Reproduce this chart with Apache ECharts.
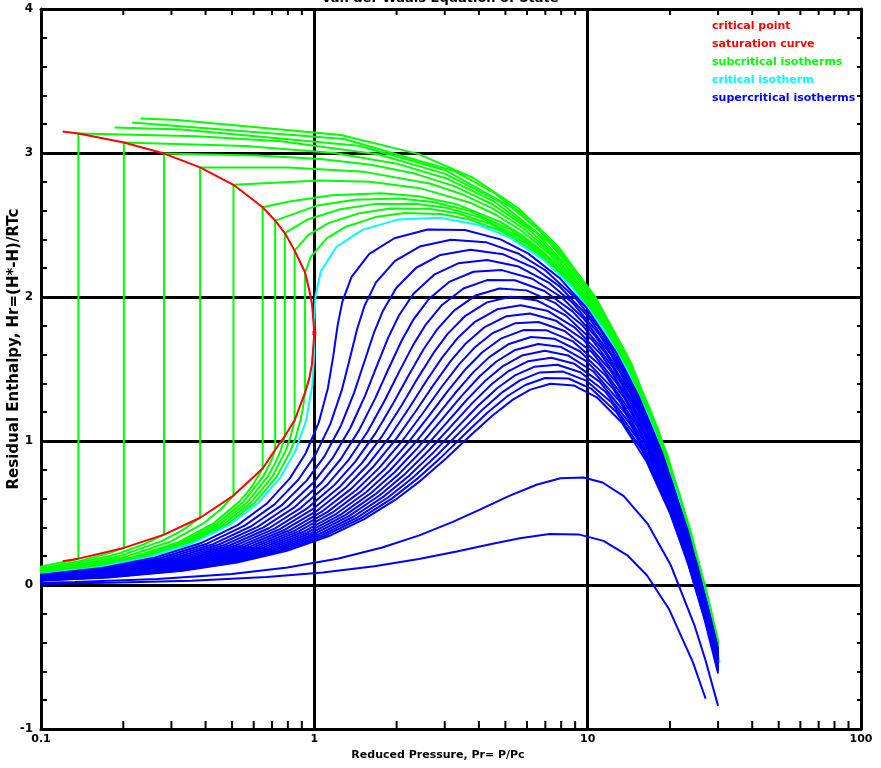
<!DOCTYPE html>
<html>
<head>
<meta charset="utf-8">
<title>Van der Waals Equation of State</title>
<script src="https://cdn.jsdelivr.net/npm/echarts@6/dist/echarts.min.js"></script>
<style>
  html, body { margin: 0; padding: 0; background: #fff; }
  #chart { width: 881px; height: 768px; }
</style>
</head>
<body>
<div id="chart"></div>
<script>
// reduced temperatures of the plotted isotherms
const subcriticalTr = [0.5, 0.55, 0.6, 0.65, 0.7, 0.75, 0.8, 0.85, 0.9, 0.92, 0.94, 0.96, 0.98];
const supercriticalTr = [1.05, 1.1, 1.15, 1.2, 1.25, 1.3, 1.35, 1.4, 1.45, 1.5, 1.55, 1.6, 1.65, 1.7, 1.75, 1.8, 1.85, 1.9, 1.95, 2, 3, 4];

// [Pr, Hr] points, one list per subcritical isotherm
const subcriticalIsotherms = [
  [[0.231,3.239],[0.315,3.23],[1.25,3.125],[2.394,2.994],[3.806,2.828],[5.567,2.618],[7.796,2.35],[10.667,2.0],[14.45,1.536],[19.587,0.901],[26.852,0.0],[30,-0.392]],
  [[0.215,3.211],[1.284,3.097],[3.25,2.875],[4.556,2.723],[6.159,2.534],[8.148,2.296],[10.653,1.993],[13.867,1.6],[18.086,1.081],[23.798,0.375],[30,-0.395]],
  [[0.186,3.177],[0.327,3.164],[1.455,3.05],[3.023,2.879],[5.25,2.625],[6.718,2.453],[8.511,2.24],[10.728,1.973],[13.51,1.635],[17.067,1.2],[21.723,0.627],[28.008,-0.151],[30,-0.399]],
  [[0.0551,0.0677],[0.0989,0.1268],[0.1277,0.1689],[0.137,0.183],[0.137,3.135],[0.373,3.116],[0.754,3.082],[1.706,2.991],[2.993,2.857],[4.762,2.662],[7.25,2.375],[8.88,2.183],[10.864,1.946],[13.309,1.651],[16.367,1.278],[20.267,0.8],[25.359,0.172],[30,-0.403]],
  [[0.0596,0.0671],[0.1074,0.1257],[0.1392,0.1675],[0.1783,0.2231],[0.201,0.2575],[0.201,3.073],[0.559,3.049],[1.185,3.0],[2.004,2.926],[3.085,2.819],[4.532,2.665],[6.501,2.444],[9.25,2.125],[11.043,1.912],[13.217,1.652],[15.89,1.328],[19.224,0.921],[23.467,0.4],[28.995,-0.283],[30,-0.407]],
  [[0.0641,0.0666],[0.1159,0.1247],[0.1769,0.1991],[0.1937,0.2212],[0.2388,0.2839],[0.282,0.35],[0.282,2.996],[0.616,2.983],[1.053,2.958],[1.612,2.918],[2.328,2.857],[3.254,2.77],[4.465,2.646],[6.07,2.473],[8.24,2.227],[11.25,1.875],[13.205,1.642],[15.57,1.358],[18.47,1.005],[22.082,0.564],[26.667,0.0],[30,-0.412]],
  [[0.0686,0.066],[0.1245,0.1236],[0.1907,0.1974],[0.2749,0.3029],[0.3274,0.3779],[0.382,0.467],[0.382,2.9],[0.8,2.9],[1.525,2.869],[2.664,2.786],[3.471,2.714],[4.504,2.614],[5.844,2.474],[7.609,2.28],[9.98,2.01],[13.25,1.625],[15.367,1.372],[17.923,1.063],[21.051,0.683],[24.939,0.207],[30,-0.416]],
  [[0.0731,0.0654],[0.133,0.1226],[0.2045,0.1957],[0.2966,0.3002],[0.3959,0.432],[0.4541,0.524],[0.506,0.621],[0.506,2.779],[1.048,2.809],[1.6,2.8],[2.434,2.756],[3.717,2.655],[4.614,2.571],[5.754,2.457],[7.223,2.302],[9.147,2.088],[11.719,1.792],[15.25,1.375],[17.529,1.102],[20.276,0.769],[23.632,0.36],[27.796,-0.15],[30,-0.422]],
  [[0.0776,0.0649],[0.1415,0.1215],[0.2183,0.194],[0.3182,0.2975],[0.4279,0.428],[0.5335,0.5807],[0.5903,0.682],[0.647,0.809],[0.647,2.623],[0.812,2.663],[1.16,2.706],[1.763,2.72],[2.4,2.7],[3.343,2.642],[4.77,2.523],[5.757,2.429],[7.004,2.301],[8.603,2.129],[10.686,1.896],[13.458,1.575],[17.25,1.125],[19.691,0.831],[22.629,0.475],[26.212,0.038],[30,-0.427]],
  [[0.0794,0.0647],[0.1449,0.1211],[0.2238,0.1933],[0.3268,0.2964],[0.4407,0.4264],[0.5515,0.5784],[0.6523,0.7585],[0.6944,0.8584],[0.719,0.939],[0.719,2.53],[1.028,2.636],[1.406,2.676],[2.048,2.684],[2.72,2.66],[3.706,2.597],[5.191,2.47],[6.214,2.371],[7.504,2.239],[9.154,2.06],[11.301,1.819],[14.154,1.488],[18.05,1.025],[20.556,0.723],[23.57,0.358],[27.244,-0.091],[30,-0.43]],
  [[0.0812,0.0644],[0.1483,0.1206],[0.2293,0.1926],[0.3355,0.2953],[0.4535,0.4248],[0.5695,0.5762],[0.6769,0.7554],[0.723,0.8549],[0.754,0.937],[0.78,1.035],[0.78,2.444],[0.94,2.536],[1.244,2.609],[1.652,2.645],[2.334,2.648],[3.04,2.62],[4.07,2.551],[5.612,2.418],[6.671,2.314],[8.004,2.176],[9.706,1.991],[11.916,1.742],[14.849,1.401],[18.85,0.925],[21.421,0.615],[24.511,0.24],[28.277,-0.22],[30,-0.432]],
  [[0.083,0.0642],[0.1517,0.1202],[0.2348,0.1919],[0.3441,0.2943],[0.4663,0.4232],[0.5874,0.574],[0.7015,0.7523],[0.786,0.933],[0.8195,1.0318],[0.847,1.144],[0.847,2.322],[0.95,2.43],[1.126,2.513],[1.46,2.582],[1.898,2.614],[2.62,2.613],[3.36,2.58],[4.434,2.506],[6.033,2.365],[7.128,2.257],[8.504,2.114],[10.258,1.922],[12.532,1.665],[15.545,1.314],[19.65,0.825],[22.286,0.507],[25.453,0.122],[29.309,-0.349],[30,-0.434]],
  [[0.0848,0.064],[0.1551,0.1198],[0.2403,0.1912],[0.3528,0.2932],[0.4791,0.4216],[0.6054,0.5717],[0.7262,0.7492],[0.818,0.929],[0.8559,1.0273],[0.8913,1.1484],[0.9067,1.22],[0.925,1.336],[0.925,2.17],[0.972,2.28],[1.113,2.409],[1.312,2.49],[1.677,2.555],[2.144,2.583],[2.905,2.577],[3.68,2.54],[4.797,2.46],[6.454,2.312],[7.585,2.2],[9.004,2.051],[10.81,1.853],[13.147,1.588],[16.24,1.227],[20.45,0.725],[23.151,0.399],[26.394,0.005],[30,-0.44]]
];

// critical isotherm, Tr = 1
const criticalIsotherm = [[0.0439,0.0319],[0.0866,0.0638],[0.1585,0.1194],[0.2459,0.1905],[0.3614,0.2921],[0.4919,0.42],[0.6234,0.5695],[0.7508,0.7462],[0.85,0.925],[0.9334,1.1431],[0.9835,1.3859],[0.9989,1.6107],[1.0002,1.8279],[1.009,2.0019],[1.0561,2.1793],[1.2044,2.3473],[1.498,2.4662],[2.034,2.5389],[2.8794,2.5504],[4,2.5],[5.161,2.4148],[6.875,2.2597],[8.731,2.0711],[11.361,1.7843],[13.762,1.511],[16.936,1.14],[21.25,0.625],[27.335,-0.113],[29.66,-0.44],[30.4,-0.54]];

const supercriticalIsotherms = [
  [[0.0461,0.0316],[0.0911,0.0632],[0.167,0.1183],[0.2597,0.1888],[0.383,0.2894],[0.5239,0.416],[0.6683,0.5638],[0.8123,0.7385],[0.93,0.915],[1.0387,1.1299],[1.1214,1.3687],[1.1728,1.5889],[1.2164,1.8009],[1.2671,1.9696],[1.3686,2.1402],[1.589,2.2992],[1.9631,2.4081],[2.5974,2.4685],[3.5573,2.4656],[4.8,2.4],[6.0701,2.3011],[7.9276,2.1281],[9.925,1.9219],[12.7405,1.6119],[15.3009,1.3187],[18.6752,0.9226],[23.25,0.375],[29.6879,-0.4072],[30,-0.445]],
  [[0.0483,0.0314],[0.0956,0.0626],[0.1755,0.1172],[0.2734,0.1871],[0.4047,0.2867],[0.5559,0.412],[0.7133,0.5582],[0.8738,0.7308],[1.01,0.905],[1.1439,1.1168],[1.2593,1.3515],[1.3467,1.5672],[1.4327,1.7738],[1.5252,1.9374],[1.6811,2.1012],[1.9737,2.2511],[2.4282,2.35],[3.1608,2.3981],[4.2353,2.3809],[5.6,2.3],[6.9792,2.1875],[8.9802,1.9966],[11.119,1.7726],[14.1198,1.4395],[16.8394,1.1264],[20.4143,0.7052],[25.25,0.125],[28.34,-0.25],[30,-0.452]],
  [[0.0506,0.0311],[0.1,0.0621],[0.184,0.1162],[0.2872,0.1853],[0.4263,0.284],[0.5879,0.408],[0.7582,0.5526],[0.9354,0.7231],[1.09,0.895],[1.2492,1.1036],[1.3973,1.3342],[1.5207,1.5455],[1.6489,1.7468],[1.7832,1.9051],[1.9936,2.0621],[2.3583,2.2031],[2.8933,2.2918],[3.7241,2.3277],[4.9133,2.2961],[6.4,2.2],[7.8883,2.0739],[10.0328,1.865],[12.3131,1.6233],[15.4992,1.267],[18.3778,0.9341],[22.1535,0.4878],[27.25,-0.125],[30,-0.459]],
  [[0.0528,0.0308],[0.1045,0.0615],[0.1925,0.1151],[0.301,0.1836],[0.4479,0.2813],[0.6199,0.404],[0.8032,0.547],[0.9969,0.7154],[1.17,0.885],[1.3544,1.0905],[1.5352,1.317],[1.6946,1.5237],[1.8651,1.7198],[2.0413,1.8729],[2.3061,2.023],[2.7429,2.155],[3.3584,2.2337],[4.2875,2.2572],[5.5912,2.2114],[7.2,2.1],[8.7974,1.9602],[11.0855,1.7334],[13.5071,1.4741],[16.8785,1.0946],[19.9163,0.7418],[23.8926,0.2704],[29.25,-0.375],[30,-0.466]],
  [[0.055,0.0305],[0.109,0.061],[0.2011,0.114],[0.3148,0.1819],[0.4695,0.2786],[0.6519,0.4],[0.8481,0.5414],[1.0585,0.7077],[1.25,0.875],[1.4597,1.0773],[1.6731,1.2997],[1.8685,1.502],[2.0813,1.6928],[2.2994,1.8406],[2.6186,1.984],[3.1275,2.1069],[3.8235,2.1755],[4.8509,2.1868],[6.2692,2.1266],[8,2.0],[9.7064,1.8466],[12.1381,1.6018],[14.7011,1.3248],[18.2578,0.9222],[21.4547,0.5495],[25.6317,0.053],[30,-0.474]],
  [[0.0573,0.0302],[0.1135,0.0604],[0.2096,0.113],[0.3286,0.1802],[0.4912,0.2759],[0.6839,0.396],[0.8931,0.5358],[1.12,0.7],[1.33,0.865],[1.565,1.0641],[1.8111,1.2825],[2.0424,1.4802],[2.2975,1.6657],[2.5574,1.8084],[2.9311,1.9449],[3.5121,2.0588],[4.2887,2.1174],[5.4143,2.1164],[6.9472,2.0419],[8.8,1.9],[10.6155,1.733],[13.1907,1.4703],[15.8952,1.1756],[19.6371,0.7498],[22.9932,0.3571],[27.3709,-0.1644],[30,-0.48]],
  [[0.0595,0.03],[0.118,0.0598],[0.2181,0.1119],[0.3424,0.1784],[0.5128,0.2732],[0.7159,0.392],[0.938,0.5301],[1.1815,0.6923],[1.41,0.855],[1.6702,1.051],[1.949,1.2653],[2.2163,1.4585],[2.5137,1.6387],[2.8155,1.7761],[3.2436,1.9058],[3.8967,2.0108],[4.7538,2.0593],[5.9777,2.046],[7.6251,1.9571],[9.6,1.8],[11.5246,1.6193],[14.2434,1.3387],[17.0892,1.0263],[21.0164,0.5774],[24.5317,0.1648],[29.11,-0.3818],[30,-0.489]],
  [[0.0617,0.0297],[0.1225,0.0593],[0.2266,0.1108],[0.3562,0.1767],[0.5344,0.2705],[0.7479,0.388],[0.983,0.5245],[1.2431,0.6846],[1.49,0.845],[1.7755,1.0378],[2.0869,1.248],[2.3902,1.4368],[2.73,1.6117],[3.0736,1.7438],[3.5561,1.8668],[4.2813,1.9627],[5.2189,2.0011],[6.541,1.9755],[8.3031,1.8724],[10.4,1.7],[12.4337,1.5057],[15.296,1.2071],[18.2832,0.8771],[22.3957,0.405],[26.0701,-0.0275],[30,-0.498]],
  [[0.064,0.0294],[0.127,0.0587],[0.2351,0.1098],[0.37,0.175],[0.556,0.2678],[0.7799,0.384],[1.0279,0.5189],[1.3046,0.6769],[1.57,0.835],[1.8808,1.0247],[2.2249,1.2308],[2.5641,1.415],[2.9462,1.5846],[3.3316,1.7116],[3.8686,1.8277],[4.666,1.9146],[5.684,1.943],[7.1044,1.9051],[8.9811,1.7877],[11.2,1.6],[13.3428,1.392],[16.3486,1.0755],[19.4773,0.7278],[23.775,0.2326],[27.6086,-0.2198],[29.93,-0.497]],
  [[0.0662,0.0291],[0.1315,0.0581],[0.2436,0.1087],[0.3838,0.1733],[0.5776,0.2651],[0.8119,0.38],[1.0728,0.5133],[1.3662,0.6692],[1.65,0.825],[1.986,1.0115],[2.3628,1.2135],[2.7381,1.3933],[3.1624,1.5576],[3.5897,1.6793],[4.1811,1.7887],[5.0506,1.8665],[6.1491,1.8848],[7.6678,1.8347],[9.659,1.7029],[12,1.5],[14.2519,1.2784],[17.4013,0.9439],[20.6713,0.5786],[25.1543,0.0601],[27.0274,-0.1604],[29.147,-0.4121],[30,-0.514]],
  [[0.0684,0.0288],[0.136,0.0576],[0.2521,0.1077],[0.3976,0.1716],[0.5993,0.2624],[0.8439,0.376],[1.1178,0.5077],[1.4277,0.6615],[1.73,0.815],[2.0913,0.9984],[2.5007,1.1963],[2.912,1.3715],[3.3786,1.5306],[3.8478,1.6471],[4.4936,1.7496],[5.4352,1.8184],[6.6142,1.8267],[8.2312,1.7643],[10.337,1.6182],[12.8,1.4],[15.161,1.1648],[18.4539,0.8124],[21.8653,0.4293],[26.5336,-0.1123],[28.4819,-0.3422],[30,-0.523]],
  [[0.0707,0.0286],[0.1405,0.057],[0.2606,0.1066],[0.4114,0.1698],[0.6209,0.2597],[0.8759,0.372],[1.1627,0.502],[1.4892,0.6538],[1.81,0.805],[2.1965,0.9852],[2.6386,1.179],[3.0859,1.3498],[3.5948,1.5036],[4.1058,1.6148],[4.8061,1.7105],[5.8198,1.7704],[7.0794,1.7686],[8.7946,1.6939],[11.015,1.5334],[13.6,1.3],[16.0701,1.0511],[19.5065,0.6808],[23.0594,0.2801],[26.1131,-0.0735],[27.9129,-0.2847],[29.94,-0.524]],
  [[0.0729,0.0283],[0.145,0.0565],[0.2691,0.1055],[0.4252,0.1681],[0.6425,0.257],[0.9079,0.368],[1.2077,0.4964],[1.5508,0.6462],[1.89,0.795],[2.3018,0.972],[2.7766,1.1618],[3.2598,1.3281],[3.811,1.4765],[4.3639,1.5825],[5.1186,1.6715],[6.2044,1.7223],[7.5445,1.7104],[9.3579,1.6234],[11.6929,1.4487],[14.4,1.2],[16.9792,0.9375],[20.5592,0.5492],[24.2534,0.1308],[27.4246,-0.2374],[29.2922,-0.4571],[30,-0.541]],
  [[0.0752,0.028],[0.1495,0.0559],[0.2777,0.1045],[0.439,0.1664],[0.6641,0.2543],[0.9399,0.364],[1.2526,0.4908],[1.6123,0.6385],[1.97,0.785],[2.4071,0.9589],[2.9145,1.1446],[3.4337,1.3063],[4.0273,1.4495],[4.6219,1.5503],[5.4311,1.6324],[6.589,1.6742],[8.0096,1.6523],[9.9213,1.553],[12.3709,1.3639],[15.2,1.1],[17.8883,0.8239],[21.6118,0.4176],[25.4474,-0.0184],[28.736,-0.4013],[30,-0.55]],
  [[0.0774,0.0277],[0.154,0.0553],[0.2862,0.1034],[0.4528,0.1647],[0.6857,0.2516],[0.9719,0.36],[1.2976,0.4852],[1.6738,0.6308],[2.05,0.775],[2.5123,0.9457],[3.0524,1.1273],[3.6076,1.2846],[4.2435,1.4225],[4.88,1.518],[5.7436,1.5933],[6.9737,1.6261],[8.4747,1.5941],[10.4847,1.4826],[13.0489,1.2792],[16,1.0],[18.7974,0.7102],[22.6644,0.286],[26.6414,-0.1677],[28.2541,-0.3551],[30,-0.563]],
  [[0.0796,0.0274],[0.1585,0.0548],[0.2947,0.1023],[0.4666,0.1629],[0.7074,0.2489],[1.0039,0.356],[1.3425,0.4796],[1.7354,0.6231],[2.13,0.765],[2.6176,0.9326],[3.1904,1.1101],[3.7815,1.2628],[4.4597,1.3954],[5.1381,1.4858],[6.0561,1.5543],[7.3583,1.5781],[8.9398,1.536],[11.0481,1.4122],[13.7268,1.1944],[16.8,0.9],[19.7064,0.5966],[23.717,0.1545],[26.328,-0.1429],[27.8355,-0.317],[29.5041,-0.5114],[30,-0.569]],
  [[0.0819,0.0272],[0.163,0.0542],[0.3032,0.1013],[0.4803,0.1612],[0.729,0.2462],[1.0359,0.352],[1.3874,0.474],[1.7969,0.6154],[2.21,0.755],[2.7229,0.9194],[3.3283,1.0928],[3.9554,1.2411],[4.6759,1.3684],[5.3961,1.4535],[6.3686,1.5152],[7.7429,1.53],[9.4049,1.4779],[11.6115,1.3417],[14.4048,1.1097],[17.6,0.8],[20.6155,0.483],[24.7697,0.0229],[27.4709,-0.2857],[29.0295,-0.4662],[30,-0.58]],
  [[0.0841,0.0269],[0.1675,0.0537],[0.3117,0.1002],[0.4941,0.1595],[0.7506,0.2435],[1.0679,0.348],[1.4324,0.4683],[1.8585,0.6077],[2.29,0.745],[2.8281,0.9063],[3.4662,1.0756],[4.1294,1.2194],[4.8921,1.3414],[5.6542,1.4213],[6.6811,1.4762],[8.1275,1.4819],[9.87,1.4197],[12.1748,1.2713],[15.0828,1.0249],[18.4,0.7],[21.5246,0.3693],[25.8223,-0.1087],[28.6138,-0.4286],[30,-0.59]],
  [[0.0863,0.0266],[0.172,0.0531],[0.3202,0.0991],[0.5079,0.1578],[0.7722,0.2408],[1.0999,0.344],[1.4773,0.4627],[1.92,0.6],[2.37,0.735],[2.9334,0.8931],[3.6042,1.0584],[4.3033,1.1976],[5.1083,1.3144],[5.9123,1.389],[6.9936,1.4371],[8.5121,1.4338],[10.3352,1.3616],[12.7382,1.2009],[15.7607,0.9402],[19.2,0.6],[22.4337,0.2557],[26.8749,-0.2403],[28.2487,-0.3974],[29.7566,-0.5714],[30,-0.6]],
  [[0.0886,0.0263],[0.1764,0.0525],[0.3287,0.0981],[0.5217,0.156],[0.7939,0.2381],[1.1319,0.34],[1.5223,0.4571],[1.9815,0.5923],[2.45,0.725],[3.0387,0.8799],[3.7421,1.0411],[4.4772,1.1759],[5.3246,1.2873],[6.1703,1.3567],[7.3061,1.398],[8.8967,1.3857],[10.8003,1.3034],[13.3016,1.1305],[16.4387,0.8554],[20,0.5],[23.3428,0.142],[26.6319,-0.2246],[29.3446,-0.5407],[30,-0.614]],
  [[0.0666,0.0104],[0.1333,0.0207],[0.2663,0.0413],[0.4989,0.0768],[0.7976,0.1216],[1.2263,0.184],[1.7719,0.26],[2.4212,0.3447],[3.2123,0.4385],[4.05,0.525],[5.1439,0.6168],[6.5007,0.6963],[7.9554,0.7411],[9.6489,0.7468],[11.3316,0.7116],[13.5561,0.6168],[16.589,0.4242],[20.1026,0.1407],[24.5692,-0.278],[27.0057,-0.5245],[29.998,-0.8395]],
  [[0.0889,0.0076],[0.1779,0.0151],[0.3562,0.0301],[0.6691,0.0555],[1.0734,0.0871],[1.6587,0.1299],[2.4119,0.18],[3.32,0.2324],[4.4431,0.2846],[5.65,0.325],[7.2492,0.3536],[9.2593,0.3515],[11.4337,0.3063],[13.9732,0.2063],[16.4929,0.0664],[19.8061,-0.1645],[24.2813,-0.5373],[27.0137,-0.7897]]
];

// saturation dome: liquid side up to the critical point, then back down the vapour side
const saturationLiquid = [[0.12,3.15],[0.137,3.135],[0.201,3.073],[0.282,2.996],[0.382,2.9],[0.506,2.779],[0.647,2.623],[0.719,2.53],[0.78,2.444],[0.847,2.322],[0.925,2.17],[0.96,2.04],[0.98,1.957],[1,1.75]];
const saturationVapor = [[1,1.75],[0.98,1.533],[0.96,1.44],[0.925,1.336],[0.847,1.144],[0.78,1.035],[0.719,0.939],[0.647,0.809],[0.506,0.621],[0.382,0.467],[0.282,0.35],[0.201,0.2575],[0.137,0.183],[0.12,0.165]];
const criticalPoint = [[1, 1.75]];

// log axis minor ticks
const xMinorTicks = [0.2,0.3,0.4,0.5,0.6,0.7,0.8,0.9,2,3,4,5,6,7,8,9,20,30,40,50,60,70,80,90];

const FONT = 'DejaVu Sans';
const GREEN = '#00ff00', BLUE = '#0000ff', CYAN = '#00ffff', RED = '#ff0000';

const chart = echarts.init(document.getElementById('chart'));

const series = [];
subcriticalIsotherms.forEach((pts, i) => {
    series.push({
        name: 'subcritical isotherms', type: 'line', data: pts, z: 2,
        showSymbol: false, silent: true, lineStyle: { color: GREEN, width: 2 }, itemStyle: { color: GREEN }
    });
});
series.push({
    name: 'critical isotherm', type: 'line', data: criticalIsotherm, z: 3,
    showSymbol: false, silent: true, lineStyle: { color: CYAN, width: 2 }, itemStyle: { color: CYAN }
});
supercriticalIsotherms.forEach((pts, i) => {
    series.push({
        name: 'supercritical isotherms', type: 'line', data: pts, z: 4,
        showSymbol: false, silent: true, lineStyle: { color: BLUE, width: 2 }, itemStyle: { color: BLUE }
    });
});
series.push({
    name: 'saturation curve', type: 'line', data: saturationLiquid.concat(saturationVapor.slice(1)), z: 5,
    showSymbol: false, silent: true, lineStyle: { color: RED, width: 2 }, itemStyle: { color: RED }
});
series.push({
    name: 'critical point', type: 'scatter', data: criticalPoint, z: 6,
    symbol: 'rect', symbolSize: 4, itemStyle: { color: RED }
});
// minor ticks of the log axis, bottom and top of the frame
series.push({
    type: 'custom', z: 7, silent: true,
    data: xMinorTicks.map(v => [v, -1]),
    encode: { x: 0, y: 1 },
    renderItem: (params, api) => {
        const b = api.coord([api.value(0), -1]);
        const t = api.coord([api.value(0), 4]);
        const st = { stroke: '#000', lineWidth: 2 };
        return {
            type: 'group',
            children: [
                { type: 'line', shape: { x1: b[0], y1: b[1], x2: b[0], y2: b[1] - 8 }, style: st },
                { type: 'line', shape: { x1: t[0], y1: t[1], x2: t[0], y2: t[1] + 6 }, style: st }
            ]
        };
    }
});

const frameLine = { show: true, onZero: false, lineStyle: { color: '#000', width: 3 } };

const option = {
    animation: false,
    backgroundColor: '#fff',
    textStyle: { fontFamily: FONT },
    grid: { left: 41, right: 20, top: 9, bottom: 39 },
    legend: {
        orient: 'vertical', left: 707, top: 21, padding: 0,
        itemWidth: 0, itemHeight: 0, itemGap: 7, icon: 'rect', selectedMode: false,
        textStyle: { fontSize: 11, fontWeight: 'bold', fontFamily: FONT },
        data: [
            { name: 'critical point', textStyle: { color: RED } },
            { name: 'saturation curve', textStyle: { color: RED } },
            { name: 'subcritical isotherms', textStyle: { color: GREEN } },
            { name: 'critical isotherm', textStyle: { color: CYAN } },
            { name: 'supercritical isotherms', textStyle: { color: BLUE } }
        ]
    },
    xAxis: [
        {
            type: 'log', logBase: 10, min: 0.1, max: 100, position: 'bottom',
            axisLine: frameLine, axisTick: { show: false },
            splitLine: { show: true, lineStyle: { color: '#000', width: 3 } },
            axisLabel: { color: '#000', fontSize: 11, fontWeight: 'bold', margin: 5, fontFamily: FONT }
        },
        {
            type: 'log', logBase: 10, min: 0.1, max: 100, position: 'top',
            axisLine: frameLine, axisTick: { show: false }, axisLabel: { show: false }, splitLine: { show: false }
        }
    ],
    yAxis: [
        {
            type: 'value', min: -1, max: 4, interval: 1,
            axisLine: frameLine,
            axisTick: { show: true, inside: true, length: 6, lineStyle: { color: '#000', width: 2 } },
            minorTick: { show: true, splitNumber: 5, length: 6, lineStyle: { color: '#000', width: 2 } },
            splitLine: { show: true, lineStyle: { color: '#000', width: 3 } },
            axisLabel: { color: '#000', fontSize: 12, fontWeight: 'bold', margin: 8, fontFamily: FONT }
        },
        {
            type: 'value', min: -1, max: 4, interval: 1, position: 'right',
            axisLine: frameLine,
            axisTick: { show: true, inside: true, length: 4, lineStyle: { color: '#000', width: 2 } },
            minorTick: { show: true, splitNumber: 5, length: 4, lineStyle: { color: '#000', width: 2 } },
            splitLine: { show: false }, axisLabel: { show: false }
        }
    ],
    graphic: [
        {
            type: 'text', x: 440, y: -1.5,
            style: { text: 'Van der Waals Equation of State', fontSize: 13, fontWeight: 'bold', fontFamily: FONT,
                     fill: '#000', textAlign: 'center', textVerticalAlign: 'middle' }
        },
        {
            type: 'text', x: 438, y: 755,
            style: { text: 'Reduced Pressure, Pr= P/Pc', fontSize: 11, fontWeight: 'bold', fontFamily: FONT,
                     fill: '#000', textAlign: 'center', textVerticalAlign: 'middle' }
        },
        {
            type: 'text', x: 14, y: 349, rotation: Math.PI / 2,
            style: { text: 'Residual Enthalpy, Hr=(H*-H)/RTc', fontSize: 15, fontWeight: 'bold', fontFamily: FONT,
                     fill: '#000', textAlign: 'center', textVerticalAlign: 'middle' }
        }
    ],
    series: series
};

chart.setOption(option);
</script>
</body>
</html>
